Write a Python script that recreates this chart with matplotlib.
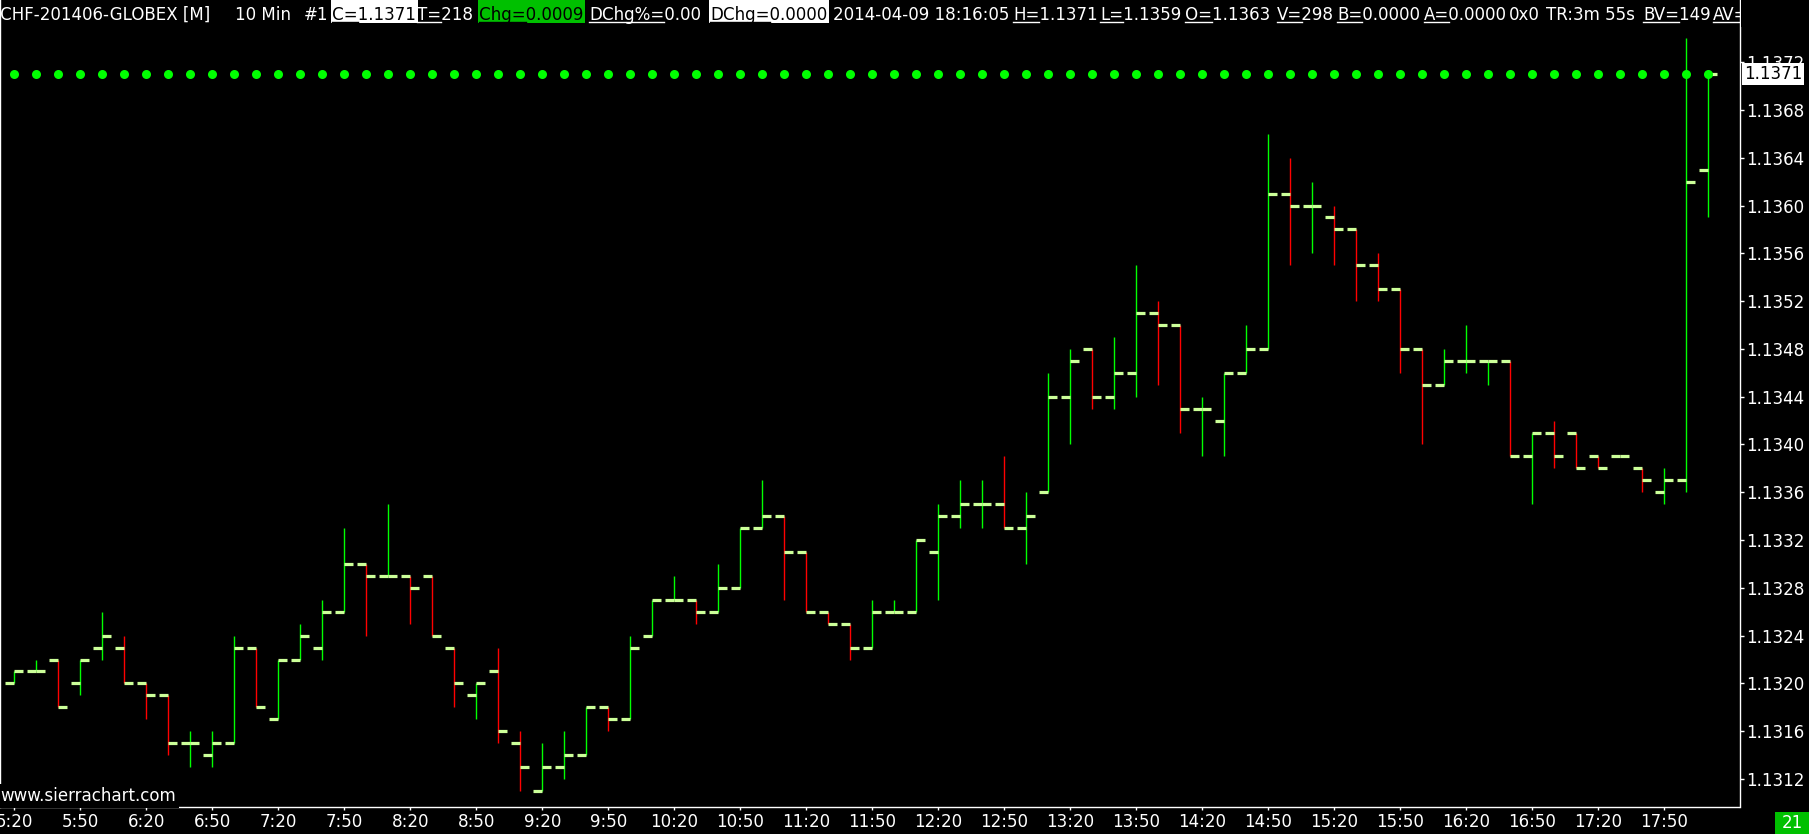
import matplotlib
matplotlib.use("Agg")
import matplotlib.pyplot as plt
import numpy as np
from matplotlib.patches import Rectangle
from matplotlib.lines import Line2D
from matplotlib.font_manager import FontProperties, fontManager

W, H = 1809, 834

# Tahoma-like look: condensed DejaVu if installed, else Liberation Sans
has_cond = any(f.name == 'DejaVu Sans' and f.stretch == 'condensed' for f in fontManager.ttflist)
if has_cond:
    FAMILY = ['DejaVu Sans']
    STRETCH = 'condensed'
    FS = 13.3
else:
    FAMILY = ['Liberation Sans', 'DejaVu Sans']
    STRETCH = 'normal'
    FS = 13.5
plt.rcParams['font.family'] = FAMILY
plt.rcParams['font.stretch'] = STRETCH

# 10 min bars, 5:20 .. 18:10
time_labels = ['5:20', '5:50', '6:20', '6:50', '7:20', '7:50', '8:20', '8:50', '9:20',
               '9:50', '10:20', '10:50', '11:20', '11:50', '12:20', '12:50', '13:20',
               '13:50', '14:20', '14:50', '15:20', '15:50', '16:20', '16:50', '17:20', '17:50']

opens = [1.1320, 1.1321, 1.1322, 1.1320, 1.1323, 1.1323, 1.1320, 1.1319, 1.1315, 1.1314,
         1.1315, 1.1323, 1.1317, 1.1322, 1.1323, 1.1326, 1.1330, 1.1329, 1.1329, 1.1329,
         1.1323, 1.1319, 1.1321, 1.1315, 1.1311, 1.1313, 1.1314, 1.1318, 1.1317, 1.1324,
         1.1327, 1.1327, 1.1326, 1.1328, 1.1333, 1.1334, 1.1331, 1.1326, 1.1325, 1.1323,
         1.1326, 1.1326, 1.1331, 1.1334, 1.1335, 1.1335, 1.1333, 1.1336, 1.1344, 1.1348,
         1.1344, 1.1346, 1.1351, 1.1350, 1.1343, 1.1342, 1.1346, 1.1348, 1.1361, 1.1360,
         1.1359, 1.1358, 1.1355, 1.1353, 1.1348, 1.1345, 1.1347, 1.1347, 1.1347, 1.1339,
         1.1341, 1.1341, 1.1339, 1.1339, 1.1338, 1.1336, 1.1337, 1.1363]
highs = [1.1321, 1.1322, 1.1322, 1.1322, 1.1326, 1.1324, 1.1320, 1.1319, 1.1316, 1.1316,
         1.1324, 1.1323, 1.1322, 1.1325, 1.1327, 1.1333, 1.1330, 1.1335, 1.1329, 1.1329,
         1.1323, 1.1320, 1.1323, 1.1316, 1.1315, 1.1316, 1.1318, 1.1318, 1.1324, 1.1327,
         1.1329, 1.1327, 1.1330, 1.1333, 1.1337, 1.1334, 1.1331, 1.1326, 1.1325, 1.1327,
         1.1327, 1.1332, 1.1335, 1.1337, 1.1337, 1.1339, 1.1336, 1.1346, 1.1348, 1.1348,
         1.1349, 1.1355, 1.1352, 1.1350, 1.1344, 1.1346, 1.1350, 1.1366, 1.1364, 1.1362,
         1.1360, 1.1358, 1.1356, 1.1353, 1.1348, 1.1348, 1.1350, 1.1347, 1.1347, 1.1341,
         1.1342, 1.1341, 1.1339, 1.1339, 1.1338, 1.1338, 1.1374, 1.1371]
lows = [1.1320, 1.1321, 1.1318, 1.1319, 1.1322, 1.1320, 1.1317, 1.1314, 1.1313, 1.1313,
        1.1315, 1.1318, 1.1317, 1.1322, 1.1322, 1.1326, 1.1324, 1.1329, 1.1325, 1.1324,
        1.1318, 1.1317, 1.1315, 1.1311, 1.1311, 1.1312, 1.1314, 1.1316, 1.1317, 1.1324,
        1.1327, 1.1325, 1.1326, 1.1328, 1.1333, 1.1327, 1.1326, 1.1325, 1.1322, 1.1323,
        1.1326, 1.1326, 1.1327, 1.1333, 1.1333, 1.1333, 1.1330, 1.1336, 1.1340, 1.1343,
        1.1343, 1.1344, 1.1345, 1.1341, 1.1339, 1.1339, 1.1346, 1.1348, 1.1355, 1.1356,
        1.1355, 1.1352, 1.1352, 1.1346, 1.1340, 1.1345, 1.1346, 1.1345, 1.1339, 1.1335,
        1.1338, 1.1338, 1.1338, 1.1339, 1.1336, 1.1335, 1.1336, 1.1359]
closes = [1.1321, 1.1321, 1.1318, 1.1322, 1.1324, 1.1320, 1.1319, 1.1315, 1.1315, 1.1315,
          1.1323, 1.1318, 1.1322, 1.1324, 1.1326, 1.1330, 1.1329, 1.1329, 1.1328, 1.1324,
          1.1320, 1.1320, 1.1316, 1.1313, 1.1313, 1.1314, 1.1318, 1.1317, 1.1323, 1.1327,
          1.1327, 1.1326, 1.1328, 1.1333, 1.1334, 1.1331, 1.1326, 1.1325, 1.1323, 1.1326,
          1.1326, 1.1332, 1.1334, 1.1335, 1.1335, 1.1333, 1.1334, 1.1344, 1.1347, 1.1344,
          1.1346, 1.1351, 1.1350, 1.1343, 1.1343, 1.1346, 1.1348, 1.1361, 1.1360, 1.1360,
          1.1358, 1.1355, 1.1353, 1.1348, 1.1345, 1.1347, 1.1347, 1.1347, 1.1339, 1.1341,
          1.1339, 1.1338, 1.1338, 1.1339, 1.1337, 1.1337, 1.1362, 1.1371]

price_ticks = [1.1312, 1.1316, 1.1320, 1.1324, 1.1328, 1.1332, 1.1336, 1.1340,
               1.1344, 1.1348, 1.1352, 1.1356, 1.1360, 1.1364, 1.1368, 1.1372]

# header: (label, value, highlight)
header = [("", "CHF-201406-GLOBEX [M]", None), ("", "10 Min", None), ("", "#1", None),
          ("C=", "1.1371", "white"), ("T=", "218", None), ("Chg=", "0.0009", "green"),
          ("DChg%=", "0.00", None), ("DChg=", "0.0000", "white"),
          ("", "2014-04-09 18:16:05", None), ("H=", "1.1371", None), ("L=", "1.1359", None),
          ("O=", "1.1363", None), ("V=", "298", None), ("B=", "0.0000", None),
          ("A=", "0.0000", None), ("", "0x0", None), ("", "TR:3m 55s", None),
          ("BV=", "149", None), ("AV=", "", None)]
header_x = [0, 235, 304, 332, 417, 479, 589, 710, 833, 1013, 1100, 1185, 1277, 1337,
            1424, 1509, 1546, 1643, 1713]

UP = '#00ff00'
DOWN = '#ff0000'
TICK = '#ccff99'


def fx(px):
    return px / W


def fy(py):
    return 1 - py / H


fig = plt.figure(figsize=(W / 100, H / 100), dpi=100, facecolor='black')
ax = fig.add_axes([0, fy(806.5), fx(1739.5), 806.5 / H])
ax.set_facecolor('black')

n = len(closes)
x = np.arange(n)
o = np.array(opens)
c = np.array(closes)
colors = [UP if cc >= oo else DOWN for oo, cc in zip(o, c)]

ax.vlines(x, lows, highs, colors=colors, lw=1.0, zorder=2)
ax.hlines(o, x - 0.4, x, colors=TICK, lw=2.3, zorder=3)
ax.hlines(c, x, x + 0.4, colors=TICK, lw=2.3, zorder=3)
ax.plot(x, [closes[-1]] * n, 'o', color='#00ff00', ms=6.5, mec='none', zorder=4)

ax.set_xlim(-0.65, 78.42)
ax.set_ylim(1.13097, 1.13772)

ax.spines['top'].set_visible(False)
for s in ['left', 'right', 'bottom']:
    ax.spines[s].set_color('white')
    ax.spines[s].set_linewidth(1.0)

ax.yaxis.tick_right()
ax.set_yticks(price_ticks)
ax.set_yticklabels(['%.4f' % p for p in price_ticks])
ax.set_xticks(x[::3])
ax.set_xticklabels(time_labels)
ax.tick_params(axis='y', colors='white', labelsize=FS, length=3, pad=1.5, width=1)
ax.tick_params(axis='x', colors='white', labelsize=FS, length=2.5, pad=2.5, width=1)

# header line
renderer = fig.canvas.get_renderer()
prop = FontProperties(family=FAMILY, size=FS, stretch=STRETCH)
for (lab, val, hl), hx in zip(header, header_x):
    txt = lab + val
    w, h, d = renderer.get_text_width_height_descent(txt, prop, ismath=False)
    tcol = 'white'
    if hl is not None:
        bg = 'white' if hl == 'white' else '#00c000'
        fig.add_artist(Rectangle((fx(hx - 1), fy(23)), fx(w + 3), 23 / H,
                                 facecolor=bg, edgecolor='none', zorder=10))
        tcol = 'black'
    fig.text(fx(hx), fy(19.5), txt, fontproperties=prop, color=tcol, ha='left',
             va='baseline', zorder=11)
    if lab:
        lw_, _, _ = renderer.get_text_width_height_descent(lab, prop, ismath=False)
        fig.add_artist(Line2D([fx(hx), fx(hx + lw_)], [fy(21.5), fy(21.5)],
                              color=tcol, lw=1, zorder=11))
# cut the header at the price scale border
fig.add_artist(Rectangle((fx(1740.5), fy(27)), fx(W - 1740.5), 27 / H,
                         facecolor='black', edgecolor='none', zorder=12))

# current price box
fig.text(fx(1744), fy(74.2), '%.4f' % closes[-1], fontproperties=prop, color='black',
         ha='left', va='center', zorder=11,
         bbox=dict(facecolor='white', edgecolor='none', pad=1.5))

fig.text(fx(0), fy(796), 'www.sierrachart.com', fontproperties=prop, color='white',
         ha='left', va='center', zorder=11,
         bbox=dict(facecolor='black', edgecolor='none', pad=2))

# bar counter box, bottom right
fig.add_artist(Rectangle((fx(1775), 0), fx(34), 22 / H, facecolor='#00c000',
                         edgecolor='none', zorder=10))
fig.text(fx(1792), fy(823.5), '21', fontproperties=prop, color='white', ha='center',
         va='center', zorder=11)

fig.savefig('out.png', dpi=100, facecolor='black')
